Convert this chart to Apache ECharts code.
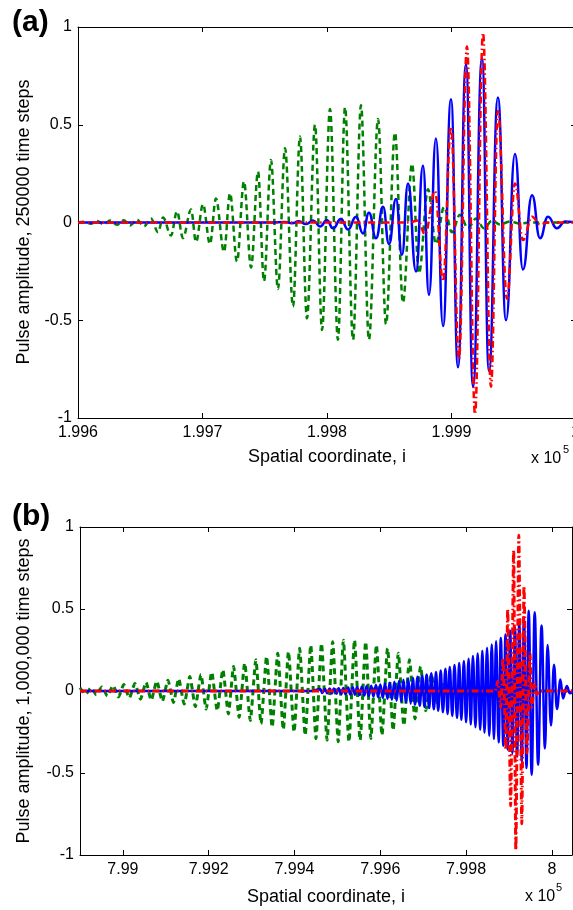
<!DOCTYPE html>
<html>
<head>
<meta charset="utf-8">
<title>Pulse amplitude</title>
<script src="https://cdn.jsdelivr.net/npm/echarts@6/dist/echarts.min.js"></script>
<style>
  html, body { margin: 0; padding: 0; background: #fff; }
  #chart { width: 573px; height: 910px; }
</style>
</head>
<body>
<div id="chart"></div>
<script>
// wave extrema, [i, amplitude]
// (a) 250000 time steps
const greenA = [
  [199600, 0], [199604.8, 0.004], [199610.4, -0.006], [199615.3, 0.008], [199620.9, -0.01], [199625.7, 0.01],
  [199631.3, -0.012], [199636.9, 0.012], [199641.8, -0.015], [199647.4, 0.015], [199653.0, -0.02], [199658.6, 0.02],
  [199664.3, -0.05], [199668.3, 0.026], [199674.7, -0.067], [199679.5, 0.057], [199684.3, -0.08], [199690.8, 0.067],
  [199694.8, -0.10], [199700.4, 0.093], [199706.0, -0.11], [199710.8, 0.123], [199717.3, -0.15], [199722.1, 0.15],
  [199727.7, -0.20], [199733.3, 0.21], [199739.0, -0.23], [199744.6, 0.26], [199749.4, -0.30], [199755.0, 0.32],
  [199760.6, -0.34], [199766.3, 0.38], [199772.7, -0.43], [199778.3, 0.44], [199783.9, -0.49], [199790.4, 0.50],
  [199796.0, -0.55], [199802.4, 0.58], [199808.8, -0.60], [199814.5, 0.59], [199820.9, -0.60], [199827.3, 0.60],
  [199833.7, -0.60], [199841.0, 0.53], [199847.4, -0.52], [199854.6, 0.46], [199861.0, -0.41], [199868.3, 0.30],
  [199873.9, -0.26], [199881.1, 0.17], [199887.5, -0.11], [199894.0, 0.08], [199900.4, -0.05], [199906.8, 0.04],
  [199913.2, -0.03], [199919.7, 0.02], [199926.1, -0.03], [199932.5, 0.01], [199938.9, -0.01], [199947.0, 0.005],
  [199955.0, -0.005], [199963, 0], [200000, 0]
];
const blueA = [
  [199600, 0], [199754.2, 0], [199766.3, 0.003], [199771.9, -0.004], [199777.5, 0.006], [199783.1, -0.008],
  [199788.8, 0.01], [199794.4, -0.02], [199800.0, 0.012], [199804.8, -0.03], [199811.2, 0.018], [199816.9, -0.036],
  [199823.3, 0.03], [199828.9, -0.056], [199833.7, 0.05], [199839.4, -0.08], [199845.0, 0.08], [199849.8, -0.11],
  [199855.4, 0.12], [199860.2, -0.165], [199865.1, 0.20], [199871.5, -0.25], [199877.1, 0.29], [199881.9, -0.37],
  [199887.5, 0.43], [199893.2, -0.53], [199899.6, 0.63], [199905.2, -0.74], [199911.6, 0.81], [199917.3, -0.84],
  [199924.5, 0.84], [199930.1, -0.76], [199937.3, 0.64], [199943.8, -0.50], [199951.0, 0.35], [199957.4, -0.24],
  [199964.7, 0.14], [199971.1, -0.08], [199977.5, 0.03], [199984.7, -0.03], [199991.2, 0.005], [200000, 0]
];
const redA = [
  [199600, 0], [199866.0, 0], [199873.1, 0.01], [199878.7, -0.06], [199886.7, 0.16], [199893.2, -0.30],
  [199899.6, 0.49], [199906.0, -0.70], [199912.4, 0.90], [199918.9, -0.98], [199925.3, 0.97], [199931.7, -0.84],
  [199937.3, 0.57], [199944.6, -0.39], [199951.0, 0.20], [199957.4, -0.09], [199964.7, 0.03], [199971.1, -0.01],
  [199977.5, 0], [200000, 0]
];

// (b) 1,000,000 time steps
const greenB = [
  [798900, 0.02], [798913, -0.02], [798926, 0.02], [798938, -0.022], [798951, 0.025], [798964, -0.03],
  [798977, 0.033], [798990, -0.036], [799002, 0.04], [799015, -0.043], [799028, 0.046], [799041, -0.05],
  [799054, 0.053], [799066, -0.056], [799079, 0.06], [799092, -0.063], [799105, 0.066], [799118, -0.07],
  [799130, 0.075], [799143, -0.08], [799156, 0.088], [799169, -0.095], [799182, 0.10], [799194, -0.11],
  [799207, 0.115], [799220, -0.12], [799233, 0.13], [799246, -0.14], [799258, 0.15], [799271, -0.16],
  [799284, 0.17], [799297, -0.18], [799310, 0.19], [799322, -0.20], [799335, 0.21], [799348, -0.22],
  [799361, 0.23], [799374, -0.235], [799386, 0.24], [799399, -0.25], [799412, 0.26], [799425, -0.27],
  [799438, 0.28], [799450, -0.29], [799463, 0.29], [799476, -0.30], [799489, 0.30], [799502, -0.31],
  [799514, 0.31], [799527, -0.31], [799540, 0.31], [799553, -0.30], [799566, 0.30], [799578, -0.29],
  [799591, 0.28], [799604, -0.27], [799617, 0.26], [799630, -0.24], [799642, 0.23], [799655, -0.21],
  [799668, 0.19], [799681, -0.17], [799694, 0.15], [799706, -0.12], [799719, 0.10], [799732, -0.07],
  [799745, 0.04], [799758, -0.02], [799775, 0], [800047, 0]
];
const blueB = [
  [798900, 0], [799440, 0],
  [799460, 0.012], [799465, -0.012], [799471, 0.013], [799476, -0.013], [799482, 0.015], [799487, -0.015],
  [799492, 0.016], [799498, -0.016], [799503, 0.017], [799509, -0.018], [799514, 0.019], [799519, -0.02],
  [799525, 0.021], [799530, -0.021], [799536, 0.022], [799541, -0.023], [799546, 0.024], [799552, -0.025],
  [799557, 0.026], [799563, -0.027], [799568, 0.029], [799573, -0.03], [799579, 0.032], [799584, -0.034],
  [799590, 0.036], [799595, -0.038], [799600, 0.04], [799606, -0.042], [799611, 0.045], [799617, -0.047],
  [799622, 0.05], [799627, -0.053], [799633, 0.056], [799638, -0.059], [799644, 0.062], [799649, -0.065],
  [799654, 0.068], [799660, -0.071], [799665, 0.074], [799671, -0.077], [799676, 0.08], [799681, -0.083],
  [799687, 0.087], [799692, -0.09], [799698, 0.093], [799703, -0.097], [799708, 0.10], [799714, -0.104],
  [799719, 0.108], [799725, -0.112], [799730, 0.116], [799735, -0.12], [799741, 0.125], [799746, -0.13],
  [799752, 0.135], [799757, -0.14], [799762, 0.146], [799768, -0.152], [799773, 0.158], [799779, -0.164],
  [799784, 0.17], [799789, -0.176], [799795, 0.183], [799800, -0.19], [799806, 0.197], [799811, -0.205],
  [799816, 0.213], [799822, -0.221], [799827, 0.229], [799833, -0.237], [799838, 0.246], [799843, -0.255],
  [799849, 0.264], [799854, -0.273], [799860, 0.283], [799865, -0.293], [799870, 0.303], [799876, -0.313],
  [799881, 0.323], [799887, -0.334], [799892, 0.345], [799897, -0.356], [799903, 0.367], [799908, -0.378],
  [799914, 0.39], [799919, -0.40], [799924, 0.415], [799930, -0.43], [799935, 0.45], [799941, -0.47],
  [799946, 0.49], [799953, -0.51], [799960, 0.48], [799968, -0.45], [799976, 0.40], [799984, -0.35],
  [799990, 0.28], [799998, -0.21], [800005, 0.16], [800012, -0.11], [800020, 0.07], [800026, -0.045],
  [800035, 0.03], [800042, -0.014], [800050, 0.005]
];
const redB = [
  [798900, 0], [799868, 0], [799874, 0.06], [799881, -0.10], [799886, 0.20], [799893, -0.36],
  [799897, 0.50], [799904, -0.70], [799911, 0.86], [799916, -0.97], [799923, 0.95], [799930, -0.81],
  [799935, 0.64], [799942, -0.38], [799949, 0.23], [799953, -0.10], [799960, 0.05], [799965, -0.02],
  [799972, 0], [800047, 0]
];

const xTicksB = [799000, 799200, 799400, 799600, 799800, 800000];
const yMin = -1, yMax = 1, yStep = 0.5;

const FONT = '"Liberation Sans", Arial, Helvetica, sans-serif';

let myChart = echarts.init(document.getElementById('chart'));

function xLabel(v) {
  return String(+(v / 1e5).toFixed(3));
}

function xAxes(gi, min, max, ticks, nameGap) {
  let tick = { inside: true, length: 5, lineStyle: { color: '#000' } };
  let bottom = {
    type: 'value', gridIndex: gi, position: 'bottom', min: min, max: max,
    name: 'Spatial coordinate, i', nameLocation: 'middle', nameGap: nameGap,
    nameTextStyle: { color: '#000', fontSize: 18, fontFamily: FONT },
    axisLine: { onZero: false, lineStyle: { color: '#000', width: 1 } },
    axisTick: Object.assign({}, tick),
    axisLabel: { color: '#000', fontSize: 16, fontFamily: FONT, margin: 7, formatter: xLabel },
    splitLine: { show: false }
  };
  let top = {
    type: 'value', gridIndex: gi, position: 'top', min: min, max: max,
    axisLine: { onZero: false, lineStyle: { color: '#000', width: 1 } },
    axisTick: Object.assign({}, tick),
    axisLabel: { show: false },
    splitLine: { show: false }
  };
  if (ticks) {
    bottom.axisTick.customValues = ticks;
    bottom.axisLabel.customValues = ticks;
    top.axisTick.customValues = ticks;
  } else {
    bottom.interval = 100;
    top.interval = 100;
  }
  return [bottom, top];
}

function yAxes(gi) {
  let base = {
    type: 'value', gridIndex: gi, min: yMin, max: yMax, interval: yStep,
    axisLine: { show: true, onZero: false, lineStyle: { color: '#000', width: 1 } },
    axisTick: { show: true, inside: true, length: 5, lineStyle: { color: '#000' } },
    splitLine: { show: false }
  };
  return [
    Object.assign({}, base, { position: 'left',
      axisLabel: { color: '#000', fontSize: 16, fontFamily: FONT, margin: 6 } }),
    Object.assign({}, base, { position: 'right', axisLabel: { show: false } })
  ];
}

function wave(name, data, xi, yi, color, type, width, smooth) {
  return {
    name: name, type: 'line', xAxisIndex: xi, yAxisIndex: yi,
    data: data, showSymbol: false, symbol: 'none', smooth: smooth, smoothMonotone: 'x',
    lineStyle: { color: color, width: width, type: type },
    emphasis: { disabled: true }
  };
}

const green = '#008000', blue = '#0000ff', red = '#ff0000';
const dash = [6, 4], dashDot = [7, 3, 1.5, 3];

myChart.setOption({
  animation: false,
  backgroundColor: '#fff',
  grid: [
    { left: 78, top: 27, width: 498, height: 391, outerBoundsMode: 'none', containLabel: false },
    { left: 80, top: 527, width: 492, height: 328, outerBoundsMode: 'none', containLabel: false }
  ],
  xAxis: xAxes(0, 199600, 200000, null, 30).concat(xAxes(1, 798900, 800047, xTicksB, 33)),
  yAxis: yAxes(0).concat(yAxes(1)),
  series: [
    wave('green a', greenA, 0, 0, green, dash, 2.5, 0.35),
    wave('blue a', blueA, 0, 0, blue, 'solid', 2.5, 0.5),
    wave('red a', redA, 0, 0, red, dashDot, 2.5, 0.4),
    wave('green b', greenB, 2, 2, green, dash, 3, 0.2),
    wave('blue b', blueB, 2, 2, blue, 'solid', 2.5, 0.4),
    wave('red b', redB, 2, 2, red, dashDot, 3, 0.2)
  ],
  graphic: [
    { type: 'text', x: 12, y: 23, style: { text: '(a)', font: 'bold 30px ' + FONT, fill: '#000', verticalAlign: 'middle' } },
    { type: 'text', x: 12, y: 517, style: { text: '(b)', font: 'bold 30px ' + FONT, fill: '#000', verticalAlign: 'middle' } },
    { type: 'text', x: 24, y: 222, rotation: Math.PI / 2,
      style: { text: 'Pulse amplitude, 250000 time steps', font: '18px ' + FONT, fill: '#000', align: 'center', verticalAlign: 'middle' } },
    { type: 'text', x: 24, y: 691, rotation: Math.PI / 2,
      style: { text: 'Pulse amplitude, 1,000,000 time steps', font: '18px ' + FONT, fill: '#000', align: 'center', verticalAlign: 'middle' } },
    { type: 'text', x: 531, y: 459, style: { text: 'x 10', font: '16px ' + FONT, fill: '#000', verticalAlign: 'middle' } },
    { type: 'text', x: 563, y: 450, style: { text: '5', font: '11px ' + FONT, fill: '#000', verticalAlign: 'middle' } },
    { type: 'text', x: 525, y: 897, style: { text: 'x 10', font: '16px ' + FONT, fill: '#000', verticalAlign: 'middle' } },
    { type: 'text', x: 556, y: 888, style: { text: '5', font: '11px ' + FONT, fill: '#000', verticalAlign: 'middle' } }
  ]
});

window.addEventListener('resize', () => {
  myChart.resize();
});
</script>
</body>
</html>
